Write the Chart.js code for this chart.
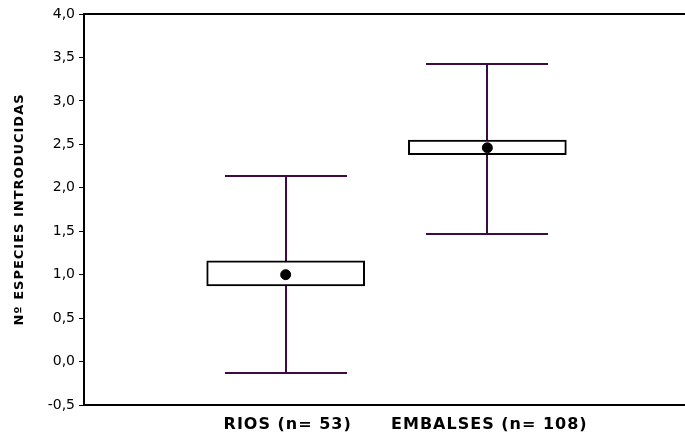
<!DOCTYPE html>
<html>
<head>
<meta charset="utf-8">
<script src="https://cdn.jsdelivr.net/npm/chart.js@4/dist/chart.umd.min.js"></script>
<style>
  html, body { margin: 0; padding: 0; background: #fff; }
  #wrap { width: 685px; height: 444px; position: relative; }
</style>
</head>
<body>
<div id="wrap"><canvas id="chart"></canvas></div>
<script>
// groups on the x axis (positions 1 and 2)
var groups = ["RIOS (n= 53)", "EMBALSES (n= 108)"];
var groupPos = [1, 2];
// mean, +/- SE box, +/- SD whiskers
var means = [1.0, 2.46];
var seLow = [0.87, 2.38];
var seHigh = [1.16, 2.55];
var sdLow = [-0.13, 1.47];
var sdHigh = [2.13, 3.42];
var yTicks = [-0.5, 0, 0.5, 1, 1.5, 2, 2.5, 3, 3.5, 4];
var yTitle = "Nº ESPECIES INTRODUCIDAS";

var whiskerColor = "#3e0a42";
var font = "Verdana, 'DejaVu Sans', sans-serif";

// whiskers go under the boxes; frame top, group labels and y title drawn by hand
var whiskers = {
  id: "whiskers",
  beforeDatasetsDraw: function (chart) {
    var ctx = chart.ctx, x = chart.scales.x, y = chart.scales.y;
    var capHalf = 61;
    ctx.save();
    ctx.strokeStyle = whiskerColor;
    ctx.lineWidth = 2;
    for (var i = 0; i < groupPos.length; i++) {
      var px = Math.round(x.getPixelForValue(groupPos[i]));
      var lo = Math.round(y.getPixelForValue(sdLow[i]));
      var hi = Math.round(y.getPixelForValue(sdHigh[i]));
      ctx.beginPath();
      ctx.moveTo(px, lo); ctx.lineTo(px, hi);
      ctx.moveTo(px - capHalf, lo); ctx.lineTo(px + capHalf, lo);
      ctx.moveTo(px - capHalf, hi); ctx.lineTo(px + capHalf, hi);
      ctx.stroke();
    }
    ctx.restore();
  },
  afterDraw: function (chart) {
    var ctx = chart.ctx, a = chart.chartArea, x = chart.scales.x;
    ctx.save();
    ctx.strokeStyle = "#000";
    ctx.lineWidth = 2;
    ctx.beginPath();
    ctx.moveTo(a.left - 1, a.top);
    ctx.lineTo(a.right, a.top);
    ctx.stroke();

    ctx.fillStyle = "#000";
    ctx.font = "bold 16px " + font;
    ctx.letterSpacing = "1px";
    ctx.textAlign = "center";
    ctx.textBaseline = "middle";
    for (var i = 0; i < groups.length; i++) {
      ctx.fillText(groups[i], x.getPixelForValue(groupPos[i]) + 2, a.bottom + 20);
    }

    // rotated y title
    ctx.translate(20, (a.top + a.bottom) / 2);
    ctx.rotate(-Math.PI / 2);
    ctx.font = "bold 13px " + font;
    ctx.letterSpacing = "1px";
    ctx.fillText(yTitle, 0, 0);
    ctx.restore();
  }
};

new Chart(document.getElementById("chart"), {
  type: "bar",
  data: {
    datasets: [
      {
        type: "scatter",
        data: groupPos.map(function (p, i) { return { x: p, y: means[i] }; }),
        backgroundColor: "#000",
        borderColor: "#000",
        pointRadius: 5,
        order: 0
      },
      {
        type: "bar",
        data: groupPos.map(function (p, i) { return { x: p, y: [seLow[i], seHigh[i]] }; }),
        backgroundColor: "#fff",
        borderColor: "#000",
        borderWidth: 2,
        borderSkipped: false,
        barThickness: 158,
        order: 1
      }
    ]
  },
  options: {
    responsive: true,
    maintainAspectRatio: false,
    animation: false,
    layout: { autoPadding: false, padding: { top: 14, right: 0, left: 0, bottom: 0 } },
    plugins: { legend: { display: false }, tooltip: { enabled: false } },
    scales: {
      x: {
        type: "linear",
        offset: false,
        min: 0,
        max: 2.98,
        afterBuildTicks: function (axis) {
          axis.ticks = groupPos.map(function (v) { return { value: v }; });
        },
        afterFit: function (axis) { axis.height = 39; },
        grid: { display: false },
        border: { display: true, color: "#000", width: 2 },
        ticks: { display: false }
      },
      y: {
        min: -0.5,
        max: 4,
        afterBuildTicks: function (axis) {
          axis.ticks = yTicks.map(function (v) { return { value: v }; });
        },
        afterFit: function (axis) { axis.width = 84; },
        grid: { display: true, drawOnChartArea: false, tickLength: 5, color: "#000", tickWidth: 1 },
        border: { display: true, color: "#000", width: 2 },
        ticks: {
          color: "#000",
          padding: 4,
          font: { family: font, size: 14 },
          callback: function (v) { return v.toFixed(1).replace(".", ","); }
        }
      }
    }
  },
  plugins: [whiskers]
});
</script>
</body>
</html>
